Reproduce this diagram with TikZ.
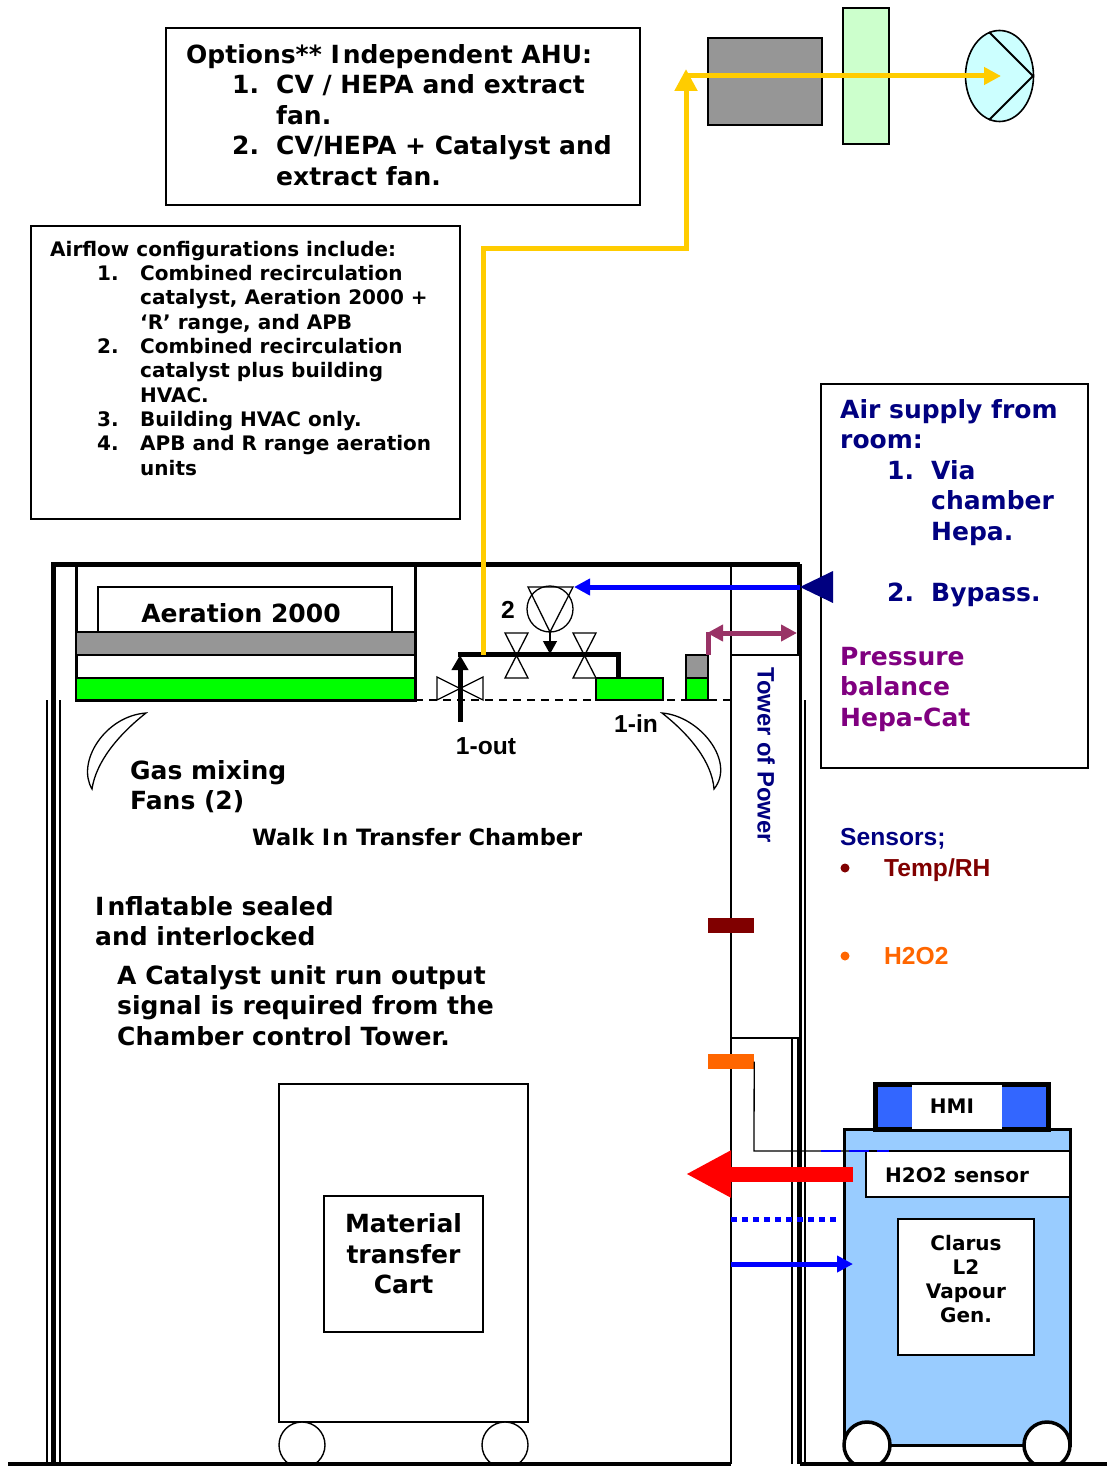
\documentclass[tikz,border=0pt]{standalone}
\usepackage{fontspec}
\setmainfont{DejaVu Sans}
\newfontfamily\arialfont{Liberation Sans}
\usetikzlibrary{shapes.geometric, arrows.meta, positioning, calc}
\definecolor{greybox}{HTML}{969696}
\definecolor{palegreen}{HTML}{CCFFCC}
\definecolor{paleblue}{HTML}{CCFFFF}
\definecolor{machineblue}{HTML}{99CCFF}
\definecolor{hmiblue}{HTML}{3366FF}
\definecolor{ductyellow}{HTML}{FFCC00}
\definecolor{balance}{HTML}{993366}
\definecolor{purpletext}{HTML}{800080}
\definecolor{navytext}{HTML}{000080}
\definecolor{maroontext}{HTML}{800000}
\definecolor{sensororange}{HTML}{FF6600}
\newcommand{\listitem}[2]{\makebox[#1][l]{#2}}

\begin{document}
\begin{tikzpicture}[
  x=1pt, y=-1pt,
  box/.style={draw=black, line width=1.6pt, fill=white, inner sep=0pt, outer sep=0pt},
  panel/.style={draw=black, line width=1.6pt, inner sep=0pt, outer sep=0pt},
  lijst/.style={anchor=north west, align=left, inner sep=0pt, font=\bfseries\fontsize{25}{30.5}\selectfont},
  lijstklein/.style={anchor=north west, align=left, inner sep=0pt, font=\bfseries\fontsize{20}{24.3}\selectfont},
  midden/.style={align=center, inner sep=0pt, font=\bfseries\fontsize{25}{30.5}\selectfont},
  klein/.style={align=center, inner sep=0pt, font=\bfseries\fontsize{20}{24}\selectfont},
  arial/.style={inner sep=0pt, font=\arialfont\bfseries\fontsize{24.6}{30}\selectfont},
  wall/.style={draw=black, line width=5pt},
  thinwall/.style={draw=black, line width=1.6pt},
  pipe/.style={draw=black, line width=5pt},
  duct/.style={draw=ductyellow, line width=5pt},
  bowtie/.style={draw=black, line width=1.3pt, fill=white},
  supply/.style={draw=blue, line width=5pt, -{Triangle[length=16pt,width=16pt]}}
]
\useasboundingbox (0,0) rectangle (1107,1466);

% fan and filter on the roof
\node[panel, fill=greybox, minimum width=114pt, minimum height=87pt] (ahu) at (765,81.5) {};
\node[panel, fill=palegreen, minimum width=46pt, minimum height=136pt] (filter) at (866,76) {};
\node[draw=black, line width=1.6pt, fill=paleblue, ellipse, minimum width=68pt, minimum height=91pt, inner sep=0pt] (fan) at (999.5,76) {};
\draw[line width=1.8pt] (989,32) -- (1033,76) -- (989,120);

% text boxes at the top
\node[box, minimum width=474pt, minimum height=177pt] (options) at (403,116.5) {};
\node[lijst] (optionstext) at (186,44) {Options** I\kern3pt ndependent AHU:\\
  \hspace*{46pt}\listitem{44pt}{1.}CV / HEPA and extract\\
  \hspace*{90pt}fan.\\
  \hspace*{46pt}\listitem{44pt}{2.}CV/HEPA + Catalyst and\\
  \hspace*{90pt}extract fan.};
\node[box, minimum width=429pt, minimum height=293pt] (airflow) at (245.5,372.5) {};
\node[lijstklein] (airflowtext) at (50,241) {Airflow configurations include:\\
  \hspace*{47pt}\listitem{43pt}{1.}Combined recirculation\\
  \hspace*{90pt}catalyst, Aeration 2000 +\\
  \hspace*{90pt}‘R’ range, and APB\\
  \hspace*{47pt}\listitem{43pt}{2.}Combined recirculation\\
  \hspace*{90pt}catalyst plus building\\
  \hspace*{90pt}HVAC.\\
  \hspace*{47pt}\listitem{43pt}{3.}Building HVAC only.\\
  \hspace*{47pt}\listitem{43pt}{4.}APB and R range aeration\\
  \hspace*{90pt}units};
\node[box, minimum width=267pt, minimum height=384pt] (airsupply) at (954.5,576) {};
\node[lijst, text=navytext] (airsupplytext) at (840,399) {Air supply from\\
  room:\\
  \hspace*{47pt}\listitem{44pt}{1.}Via\\
  \hspace*{91pt}chamber\\
  \hspace*{91pt}Hepa.\\[30.5pt]
  \hspace*{47pt}\listitem{44pt}{2.}Bypass.};
\node[lijst, text=purpletext] (balancetext) at (840,647) {Pressure\\balance\\Hepa-Cat};

% chamber walls
\draw[wall] (53,564) -- (53,1464);
\draw[thinwall] (47,700) -- (47,1464);
\draw[thinwall] (60,700) -- (60,1464);
\draw[wall] (51,564) -- (800,564);
\draw[wall] (799.5,564) -- (799.5,1464);
\draw[thinwall] (792,1038) -- (792,1464);
\draw[thinwall] (805,700) -- (805,1464);

% tower
\node[panel, minimum width=69pt, minimum height=90pt] (towertop) at (765.5,610) {};
\node[panel, fill=white, minimum width=69pt, minimum height=383pt] (tower) at (765.5,846.5) {};
\draw[thinwall] (731,1038) -- (731,1464);
\draw[thinwall] (731,1038) -- (792,1038);
\node[inner sep=0pt, font=\arialfont\bfseries\fontsize{23.8}{30}\selectfont, text=navytext, rotate=-90] (towertext) at (766,755) {Tower of Power};

% aeration unit
\draw[draw=black, line width=3pt] (76,564) -- (76,700) -- (415,700) -- (415,564);
\node[panel, minimum width=294pt, minimum height=45pt] (aerationbox) at (245,609.5) {};
\node[midden] (aerationtext) at (241,613) {Aeration 2000};
\node[panel, fill=greybox, minimum width=339pt, minimum height=23pt] (aerationgrey) at (245.5,643.5) {};
\node[panel, fill=green, minimum width=339pt, minimum height=22pt] (aerationgreen) at (245.5,689) {};
\draw[line width=1.2pt, dash pattern=on 8pt off 6pt] (aerationgreen.south east) -- (731,700);

% catalyst and valves
\node[panel, fill=green, minimum width=67pt, minimum height=22pt] (catalyst) at (629.5,689) {};
\node[panel, fill=greybox, minimum width=22pt, minimum height=23pt] (smallgrey) at (697,666.5) {};
\node[panel, fill=green, minimum width=22pt, minimum height=22pt] (smallgreen) at (697,689) {};
\draw[bowtie] (505,633) -- (528,633) -- (505,678) -- (528,678) -- cycle;
\draw[bowtie] (573,633) -- (596,633) -- (573,678) -- (596,678) -- cycle;
\draw[bowtie] (437,677) -- (437,700) -- (483,677) -- (483,700) -- cycle;
\draw[pipe] (458,654) -- (618,654) -- (618,678);
\draw[pipe, -{Triangle[length=15pt,width=16pt]}] (460,722) -- (460,655);
\draw[line width=1.3pt] (550,609) circle (23);
\draw[line width=1.3pt] (528,587) -- (573,587) -- (550,632) -- cycle;
\draw[line width=1.3pt, -{Triangle[length=13pt,width=14pt]}] (550,632) -- (550,654);
\node[arial] (twolabel) at (508,610) {2};
\node[arial] (oneout) at (486,746) {1-out};
\node[arial] (onein) at (636,724) {1-in};

% exhaust duct
\coordinate (ductstart) at (483,655);
\coordinate (ductleft) at (483,248);
\coordinate (ductright) at (686,248);
\coordinate (ducttop) at (686,69);
\draw[duct, -{Triangle[length=22pt,width=22pt]}] (ductstart) -- (ductleft) -- (ductright) -- (ducttop);
\draw[duct, -{Triangle[length=17pt,width=17pt]}] (686,76) -- (1001,76);

% air supply and pressure balance
\coordinate (supplyin) at (800,587);
\draw[supply] (supplyin) -- (574,587);
\fill[navytext] (supplyin) -- (833,571) -- (833,603) -- cycle;
\draw[draw=balance, line width=5pt] (708,655) -- (708,632);
\draw[draw=balance, line width=5pt, {Triangle[length=16pt,width=16pt]}-{Triangle[length=16pt,width=16pt]}] (707,633) -- (797,633);

% gas mixing fans
\draw[line width=1.3pt, fill=white] (146,713) .. controls (105,716) and (76,762) .. (92,789) .. controls (96,762) and (118,735) .. cycle;
\draw[line width=1.3pt, fill=white] (662,713) .. controls (700,716) and (736,762) .. (714,789) .. controls (712,762) and (690,735) .. cycle;

% chamber labels
\node[lijst] (gaslabel) at (130,760) {Gas mixing\\Fans (2)};
\node[anchor=north west, inner sep=0pt, font=\bfseries\fontsize{22.5}{26}\selectfont] (walkin) at (252,828) {Walk I\kern2pt n Transfer Chamber};
\node[lijst] (sealedlabel) at (95,896) {I\kern3pt nflatable sealed\\and interlocked};
\node[lijst] (catalystlabel) at (117,965) {A Catalyst unit run output\\signal is required from the\\Chamber control Tower.};

% sensors
\node[inner sep=0pt, fill=maroontext, minimum width=46pt, minimum height=15pt] (temprh) at (731,925.5) {};
\node[inner sep=0pt, fill=sensororange, minimum width=46pt, minimum height=15pt] (htwo) at (731,1061.5) {};
\node[arial, anchor=base west, text=navytext] (sensorslabel) at (840,845) {Sensors;};
\fill[maroontext] (845,868) circle (4.5);
\node[arial, anchor=base west, text=maroontext] (templabel) at (884,876) {Temp/RH};
\fill[sensororange] (845,956) circle (4.5);
\node[arial, anchor=base west, text=sensororange] (htwolabel) at (884,964) {H2O2};

% material cart
\node[panel, fill=white, minimum width=249pt, minimum height=338pt] (cart) at (403.5,1253) {};
\node[panel, minimum width=159pt, minimum height=136pt] (cartbox) at (403.5,1264) {};
\node[midden] (carttext) at (403.5,1254) {Material\\transfer\\Cart};
\draw[line width=1.4pt, fill=white] (302,1445) circle (23);
\draw[line width=1.4pt, fill=white] (505,1445) circle (23);

% vapour generator
\node[draw=black, line width=3pt, fill=machineblue, inner sep=0pt, outer sep=0pt, minimum width=226pt, minimum height=316pt] (machine) at (957,1287) {};
\draw[line width=3.5pt, fill=white] (867,1445) circle (23);
\draw[line width=3.5pt, fill=white] (1047,1445) circle (23);
\node[draw=black, line width=5pt, fill=hmiblue, inner sep=0pt, outer sep=0pt, minimum width=173pt, minimum height=45pt] (hmibar) at (961.5,1106.5) {};
\node[fill=white, inner sep=0pt, minimum width=90pt, minimum height=44pt] (hmiwhite) at (957,1106.5) {};
\node[klein] (hmi) at (952,1106.5) {HMI};
\node[panel, fill=white, minimum width=204pt, minimum height=46pt] (sensorbox) at (968,1174) {};
\node[anchor=base west, inner sep=0pt, font=\bfseries\fontsize{20}{24}\selectfont] (sensortext) at (885,1182) {H2O2 sensor};
\node[panel, fill=white, minimum width=136pt, minimum height=136pt] (clarus) at (966,1287) {};
\node[klein] (clarustext) at (966,1279) {Clarus\\L2\\Vapour\\Gen.};

% wiring
\draw[line width=1.3pt] (htwo.east) -- (754,1151) -- (sensorbox.north west);
\draw[draw=blue, line width=1.8pt, dash pattern=on 20pt off 8pt] (821,1151) -- (889,1151);
\coordinate (redstart) at (853,1174);
\draw[draw=red, line width=15pt, -{Triangle[length=45pt,width=44pt]}] (redstart) -- (686,1174);
\coordinate (dotstart) at (731,1219.5);
\draw[draw=blue, line width=5pt, dash pattern=on 6pt off 5pt] (dotstart) -- (839,1219.5);
\coordinate (vapourin) at (731,1264);
\draw[supply] (vapourin) -- (853,1264);

% floor
\draw[line width=4pt] (8,1464) -- (731,1464);
\draw[line width=4pt] (800,1464) -- (1107,1464);
\end{tikzpicture}
\end{document}
